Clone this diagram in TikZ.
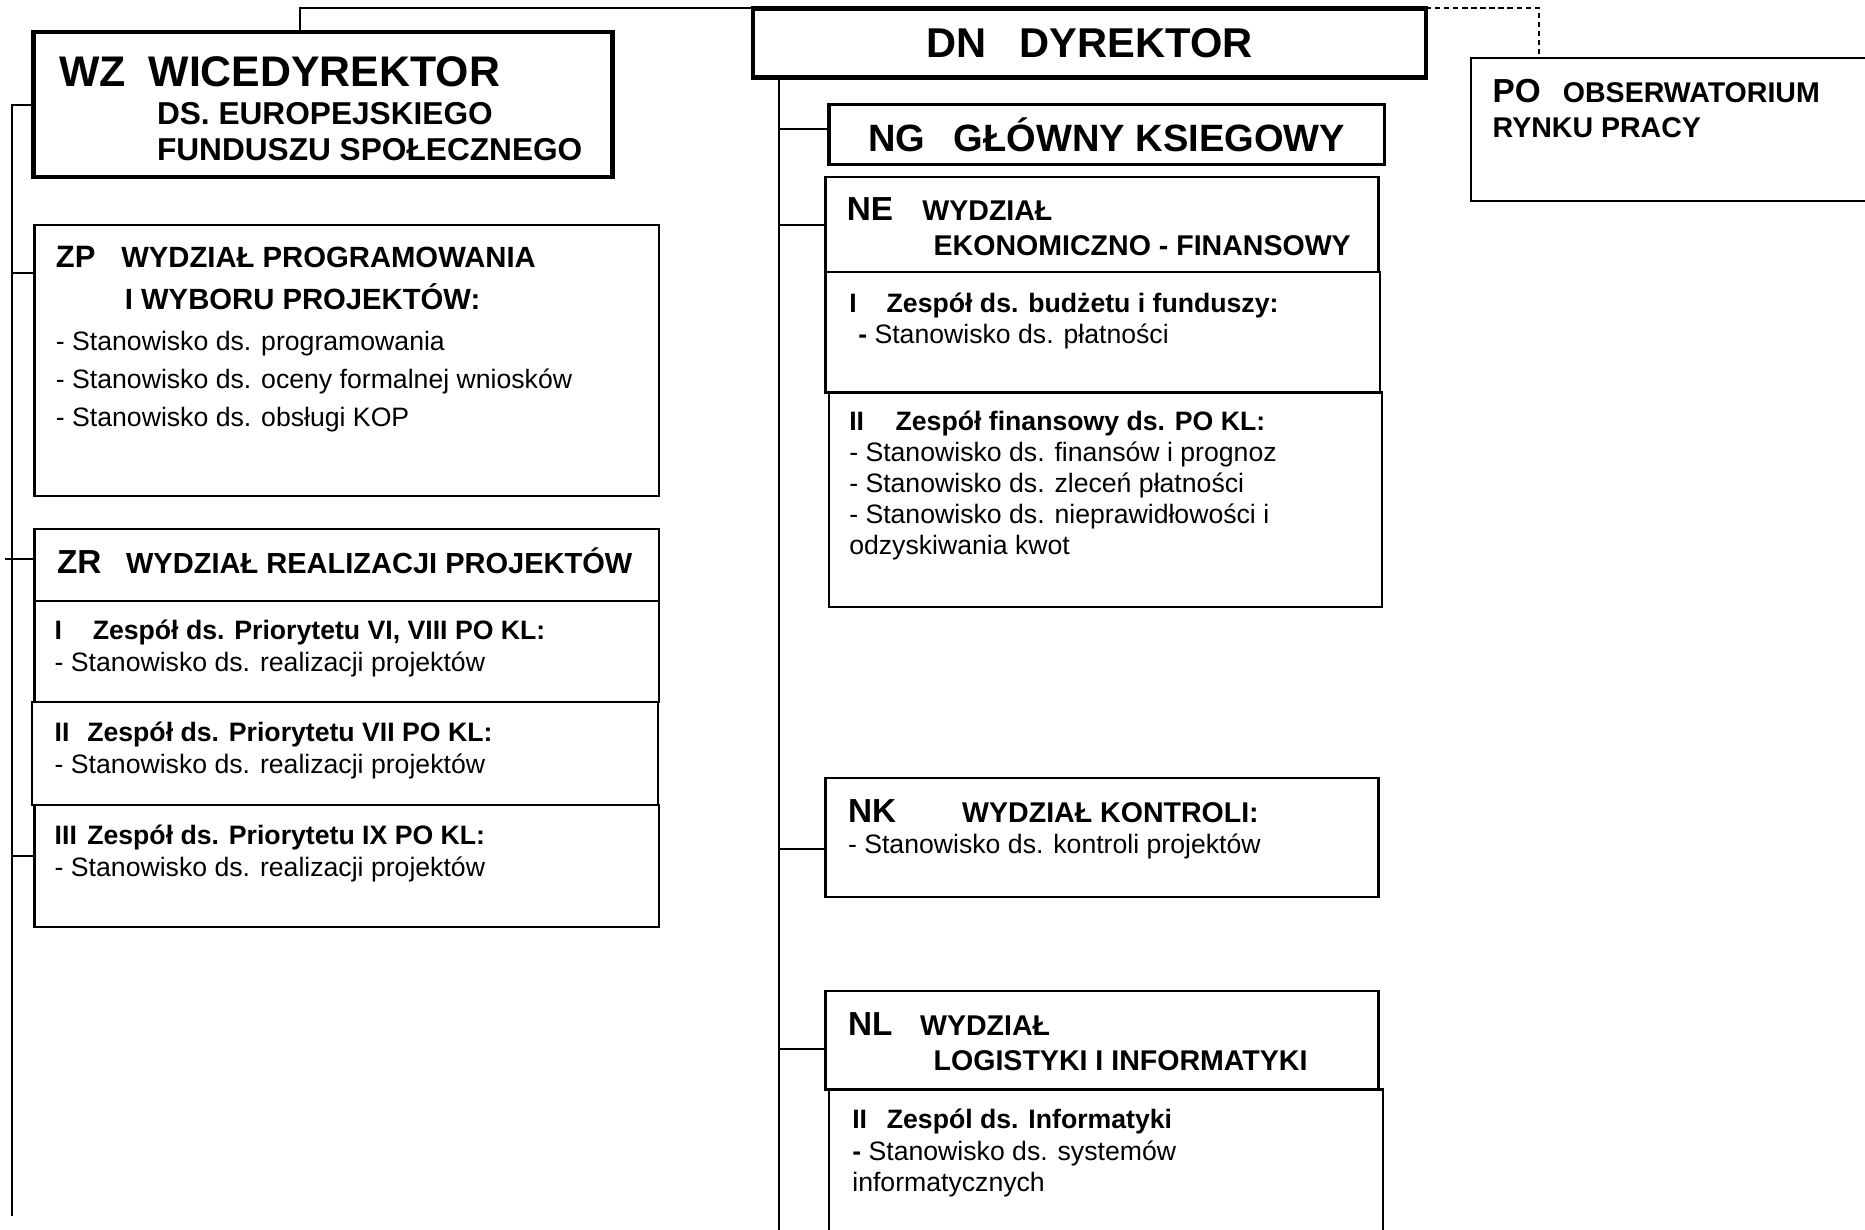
\documentclass[tikz,border=0pt]{standalone}
\usepackage{fontspec}
\setmainfont{Liberation Sans}

% font size with a fixed line pitch
\newcommand{\fsz}[1]{\fontsize{#1}{13pt}\selectfont}
% text block of a box: width, height, lines
\newcommand{\orgtext}[3]{\parbox[t][#2][t]{#1}{\lineskiplimit=-\maxdimen\fsz{11.2}#3}}

\begin{document}
\begin{tikzpicture}[
    x = 0.5pt, y = -0.5pt,
    every node/.style = {draw, rectangle, inner sep = 0pt, outer sep = 0pt,
                         anchor = north west, line width = 0.9pt},
    chief/.style = {line width = 1.9pt, font = \bfseries},
    link/.style  = {line width = 0.8pt}
  ]
  \useasboundingbox (0,0) rectangle (1568,1034);
  \clip (0,0) rectangle (1568,1034);

  % management
  \node [chief, minimum width = 283pt, minimum height = 29pt, font = {\fsz{17.5}\bfseries}]
    (dn) at (633,7) {\raisebox{-1pt}{DN\hspace{14pt}DYREKTOR}};
  \node [chief] (wz) at (28,27) {\orgtext{243.5pt}{61pt}{%
    \rule{0pt}{23pt}\fsz{18}\hspace*{11pt}\rlap{WZ}\hspace*{37.5pt}WICEDYREKTOR\\[2.8pt]
    \fsz{13.3}\hspace*{52pt}DS. EUROPEJSKIEGO\\[2.3pt]
    \hspace*{52pt}FUNDUSZU SPOŁECZNEGO}};
  \node [line width = 1.3pt, minimum width = 233.5pt, minimum height = 25pt, font = {\fsz{16}\bfseries}]
    (ng) at (697,88) {NG\hspace{12pt}GŁÓWNY KSIEGOWY};
  \node (po) at (1237,49) {\orgtext{171.5pt}{60pt}{%
    \rule{0pt}{18.5pt}\bfseries\hspace*{9pt}\rlap{\fsz{14}PO}\hspace*{29.5pt}\fsz{12}OBSERWATORIUM\\[2pt]
    \hspace*{9pt}RYNKU PRACY}};

  % departments of WZ
  \node (zp) at (29,189) {\orgtext{262.5pt}{114pt}{%
    \rule{0pt}{17.8pt}\bfseries\hspace*{9pt}\rlap{\fsz{13}ZP}\hspace*{27.5pt}\fsz{12.3}WYDZIAŁ PROGRAMOWANIA\\[4.9pt]
    \hspace*{38pt}I WYBORU PROJEKTÓW:\\[4.1pt]
    \mdseries\fsz{11.2}\hspace*{9pt}- Stanowisko ds. programowania\\[3pt]
    \hspace*{9pt}- Stanowisko ds. oceny formalnej wniosków\\[3pt]
    \hspace*{9pt}- Stanowisko ds. obsługi KOP}};
  \node (zr) at (29,445) {\orgtext{262.5pt}{30pt}{%
    \rule{0pt}{18.5pt}\bfseries\hspace*{9.5pt}\rlap{\fsz{14}ZR}\hspace*{29pt}\fsz{12.2}WYDZIAŁ REALIZACJI PROJEKTÓW}};
  \node (zr1) at (zr.south west) {\orgtext{262.5pt}{42.5pt}{%
    \rule{0pt}{16.5pt}\bfseries\hspace*{8.5pt}\rlap{I}\hspace*{16pt}Zespół ds. Priorytetu VI, VIII PO KL:\\[0.3pt]
    \mdseries\hspace*{8.5pt}- Stanowisko ds. realizacji projektów}};
  \node (zr2) at ([xshift = -1pt]zr1.south west) {\orgtext{263pt}{43.5pt}{%
    \rule{0pt}{16.5pt}\bfseries\hspace*{9.5pt}\rlap{II}\hspace*{13.7pt}Zespół ds. Priorytetu VII PO KL:\\[0.5pt]
    \mdseries\hspace*{9.5pt}- Stanowisko ds. realizacji projektów}};
  \node (zr3) at (29,677) {\orgtext{262.5pt}{51pt}{%
    \rule{0pt}{16.5pt}\bfseries\hspace*{8.5pt}\rlap{III}\hspace*{13.7pt}Zespół ds. Priorytetu IX PO KL:\\[0.5pt]
    \mdseries\hspace*{8.5pt}- Stanowisko ds. realizacji projektów}};

  % departments of DN
  \node (ne) at (694,149) {\orgtext{232.5pt}{40pt}{%
    \rule{0pt}{18pt}\bfseries\hspace*{9pt}\rlap{\fsz{14}NE}\hspace*{31.75pt}\fsz{12}WYDZIAŁ\\[1.7pt]
    \hspace*{45.5pt}EKONOMICZNO - FINANSOWY}};
  \node (ne1) at (ne.south west) {\orgtext{233pt}{50.5pt}{%
    \rule{0pt}{16.7pt}\bfseries\hspace*{10pt}\rlap{I}\hspace*{15.75pt}Zespół ds. budżetu i funduszy:\\
    \mdseries\hspace*{13.8pt}\textbf{-} Stanowisko ds. płatności}};
  \node (ne2) at ([xshift = 1.5pt]ne1.south west) {\orgtext{232.5pt}{90pt}{%
    \rule{0pt}{15.9pt}\bfseries\hspace*{8.5pt}\rlap{II}\hspace*{19.5pt}Zespół finansowy ds. PO KL:\\
    \mdseries\hspace*{8.5pt}- Stanowisko ds. finansów i prognoz\\
    \hspace*{8.5pt}- Stanowisko ds. zleceń płatności\\
    \hspace*{8.5pt}- Stanowisko ds. nieprawidłowości i\\
    \hspace*{8.5pt}odzyskiwania kwot}};
  \node (nk) at (694,654) {\orgtext{232.5pt}{50pt}{%
    \rule{0pt}{18.6pt}\bfseries\hspace*{9.5pt}\rlap{\fsz{14}NK}\hspace*{48pt}\fsz{12}WYDZIAŁ KONTROLI:\\[0.3pt]
    \mdseries\fsz{11.2}\hspace*{9.5pt}- Stanowisko ds. kontroli projektów}};
  \node (nl) at (694,833) {\orgtext{232.5pt}{41.5pt}{%
    \rule{0pt}{18.6pt}\bfseries\hspace*{9.5pt}\rlap{\fsz{14}NL}\hspace*{30.3pt}\fsz{12}WYDZIAŁ\\[1.7pt]
    \hspace*{45.5pt}LOGISTYKI I INFORMATYKI}};
  \node (nl2) at ([xshift = 1.5pt]nl.south west) {\orgtext{233pt}{65pt}{%
    \rule{0pt}{16.4pt}\bfseries\hspace*{9.8pt}\rlap{II}\hspace*{14.5pt}Zespól ds. Informatyki\\[0.3pt]
    \mdseries\hspace*{9.8pt}\textbf{-} Stanowisko ds. systemów\\
    \hspace*{9.8pt}informatycznych}};

  % lines of subordination
  \coordinate (lend) at (10,1022);
  \coordinate (mend) at (655,1040);
  \begin{scope}[link]
    \draw (dn.north west) -| ([xshift = 112pt]wz.north west);
    \draw [dash pattern = on 2.2pt off 1.6pt] (dn.north east) -| ([xshift = 28.5pt]po.north west);
    \draw (wz.west) -| (lend);
    \draw ([yshift = 36.85pt]zp.west) coordinate (zpT) -- (zpT -| lend);
    \draw ([yshift = 2.5pt]zr.west) coordinate (zrT) -- ([xshift = -3pt]zrT -| lend);
    \draw ([yshift = 4.3pt]zr3.west) coordinate (zr3T) -- (zr3T -| lend);
    \draw (dn.south -| mend) -- (mend);
    \draw ([yshift = 2.25pt]ng.west) coordinate (ngT) -- (ngT -| mend);
    \draw (ne.west) -- (ne.west -| mend);
    \draw ([yshift = -5pt]nk.west) coordinate (nkT) -- (nkT -| mend);
    \draw ([yshift = -3.75pt]nl.west) coordinate (nlT) -- (nlT -| mend);
  \end{scope}
\end{tikzpicture}
\end{document}
